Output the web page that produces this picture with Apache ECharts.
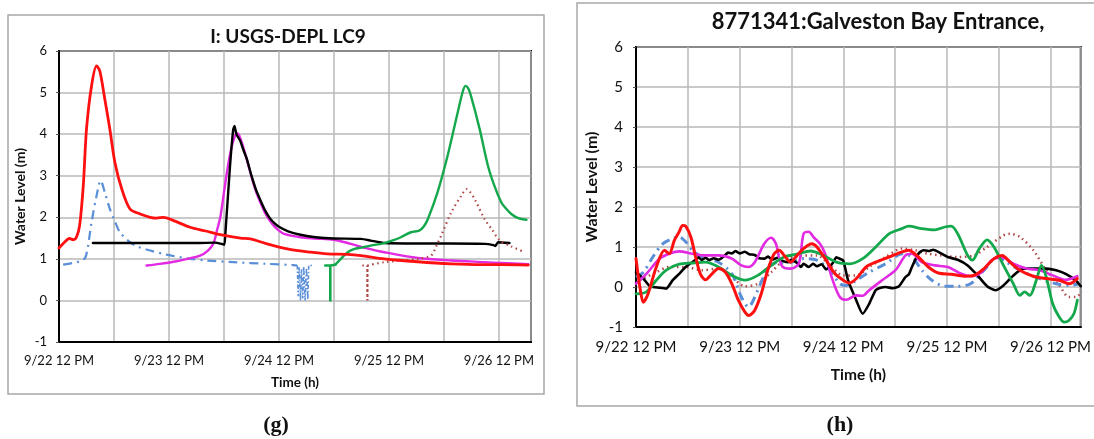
<!DOCTYPE html>
<html>
<head>
<meta charset="utf-8">
<script src="https://cdn.jsdelivr.net/npm/echarts@6/dist/echarts.min.js"></script>
<style>
  html, body { margin: 0; padding: 0; background: #fff; }
  #chart { width: 1094px; height: 439px; }
</style>
</head>
<body>
<div id="chart"></div>
<script>
// Time axis: hours after 9/22 12 PM; labels every 24 h, grid every 12 h
const tickLabels = ['9/22 12 PM', '9/23 12 PM', '9/24 12 PM', '9/25 12 PM', '9/26 12 PM'];
const yTicks = [-1, 0, 1, 2, 3, 4, 5, 6];

// ---- (g) I: USGS-DEPL LC9 : [hour, water level m] ----
const lc9Red = [[0,1.26],[1.2,1.4],[2.3,1.49],[3.1,1.46],[3.8,1.52],[4.5,1.8],[5.3,2.76],[6.0,4.12],[7.1,5.16],[8.2,5.64],[8.9,5.52],[10,4.84],[11.1,4.12],[12.2,3.32],[13.7,2.68],[15.5,2.2],[17.7,2.08],[19.9,2.0],[21.3,1.98],[22.8,2.0],[25,1.92],[28.6,1.76],[32,1.67],[35.2,1.58],[39.6,1.5],[41.8,1.48],[45.4,1.36],[49.8,1.24],[54.9,1.16],[58.6,1.12],[63,1.11],[65.9,1.08],[71,1.0],[78.3,0.93],[85.6,0.88],[92.1,0.86],[96.5,0.86],[102.4,0.85]];
const lc9Black = [[7.4,1.38],[20,1.38],[30,1.38],[34,1.39],[35.5,1.36],[36.1,1.34],[36.3,1.6],[37.3,3.2],[38.0,4.1],[38.3,4.2],[38.7,4.0],[39.5,3.85],[40.3,3.6],[41,3.4],[42,3.0],[43,2.66],[44,2.4],[45,2.16],[46,1.98],[47,1.86],[48,1.77],[50,1.66],[52.7,1.58],[56,1.52],[60,1.49],[65.9,1.48],[68,1.44],[71,1.38],[78.3,1.37],[85,1.37],[92.9,1.36],[94.8,1.33],[95.2,1.31],[95.8,1.40],[98.3,1.38]];
const lc9Magenta = [[19.1,0.84],[22,0.88],[25,0.93],[28,1.0],[30.8,1.08],[32.5,1.2],[33.7,1.37],[34.5,1.7],[35.2,2.0],[36.0,2.6],[36.7,3.12],[37.4,3.55],[38.1,3.86],[38.8,4.02],[39.4,3.95],[40.3,3.65],[41,3.38],[42,2.98],[43,2.62],[44,2.34],[45,2.1],[46,1.92],[47,1.78],[48,1.68],[49.1,1.6],[52.7,1.52],[56,1.49],[60,1.46],[63.7,1.36],[67,1.26],[71,1.16],[78.3,1.02],[85.6,0.96],[92.9,0.92],[96.5,0.9],[102.4,0.87]];
const lc9Blue = [[0.9,0.86],[3,0.9],[4.5,0.94],[5.8,1.04],[7.1,1.88],[8.2,2.52],[9.1,2.88],[10,2.6],[11.1,2.2],[12.2,1.9],[13.3,1.64],[15.5,1.4],[17.5,1.28],[19.9,1.2],[23.5,1.1],[28.6,1.0],[32.3,0.96],[38.1,0.92],[45.4,0.88],[51.2,0.85],[52,0.84]];
const lc9BlueGap = [[52,0.84],[52.2,0.1],[52.4,0.8],[52.7,0.0],[52.9,0.75],[53.2,0.05],[53.4,0.82],[53.7,0.0],[54,0.78],[54.3,0.02],[54.5,0.84],[55.3,0.84]];
const lc9GreenStart = [[58.1,0.84],[59.2,0.84],[59.2,0],[59.2,0.84],[60.3,0.86]];
const lc9Green = [[60.3,0.86],[61.5,1.0],[63,1.16],[64.5,1.24],[66,1.27],[68,1.32],[71,1.38],[73,1.45],[74.6,1.52],[76.8,1.64],[78.6,1.68],[79.6,1.78],[80.5,1.96],[82.6,2.6],[84.8,3.48],[87,4.52],[88.1,5.02],[88.7,5.16],[89.3,5.1],[89.9,4.92],[91.8,4.12],[93.6,3.24],[95,2.76],[96.5,2.36],[97.3,2.24],[98.7,2.08],[100.2,1.98],[102,1.94]];
const lc9BrownStart = [[66.2,0.84],[67.3,0.84],[67.3,0],[67.3,0.84]];
const lc9Brown = [[67.3,0.84],[71,0.92],[75,0.96],[78.3,1.0],[81.2,1.08],[82.3,1.3],[83.4,1.56],[85.6,2.12],[87.8,2.52],[88.9,2.68],[89.6,2.62],[90.7,2.44],[92.9,1.95],[94.4,1.72],[96.2,1.44],[98.7,1.3],[101.6,1.16]];

// ---- (h) 8771341: Galveston Bay Entrance : [hour, water level m] ----
const gbRed = [[0,0.71],[0.9,0],[1.7,-0.38],[2.8,-0.17],[4.7,0.5],[6.6,0.92],[7.7,0.83],[8.9,1.17],[10,1.38],[10.8,1.54],[11.5,1.52],[12.7,1.25],[13.8,0.75],[14.9,0.33],[16.1,0.18],[17.6,0.33],[19.1,0.46],[20.6,0.38],[22.2,0.08],[23.7,-0.33],[25.2,-0.62],[26.1,-0.71],[27.5,-0.58],[29,-0.17],[30.5,0.42],[32,0.83],[33.2,0.92],[34.3,0.79],[35.8,0.62],[37.3,0.79],[38.8,0.96],[40.7,1.08],[41.9,1.0],[43.8,0.71],[46.1,0.33],[48,0.17],[49.5,0.1],[51,0.21],[53.3,0.5],[55.5,0.62],[58.6,0.75],[61.6,0.88],[63.1,0.92],[65.4,0.75],[67.7,0.5],[70,0.35],[73,0.32],[76,0.27],[78.3,0.29],[80.6,0.46],[82.9,0.71],[84.8,0.79],[86.6,0.62],[88.9,0.42],[92,0.27],[95,0.21],[98,0.17],[100.3,0.08],[102.2,0.21]];
const gbMagenta = [[0,0.08],[2.4,0.33],[5.5,0.71],[7.7,0.83],[10,0.89],[13.1,0.83],[16.1,0.79],[19.1,0.79],[22.2,0.71],[24.4,0.54],[26,0.5],[27.5,0.62],[29.7,1.08],[31.3,1.23],[32.4,1.08],[33.2,0.71],[34,0.5],[35.8,0.46],[37.7,0.58],[38.8,1.33],[40,1.38],[41.1,1.25],[42.6,1.08],[43.8,0.83],[45.3,0.25],[47.2,-0.25],[48.7,-0.32],[51,-0.21],[52.5,-0.22],[54,-0.08],[57,0.17],[60.1,0.42],[62.4,0.79],[63.9,0.83],[66.2,0.62],[69.2,0.54],[72.2,0.5],[75.3,0.33],[77.5,0.27],[79.8,0.35],[82.9,0.71],[85.1,0.73],[87.4,0.58],[90.4,0.46],[93.5,0.42],[96.5,0.29],[99.5,0.18],[102.2,0.27]];
const gbGreen = [[0,-0.17],[2.4,-0.12],[4.7,0.17],[7,0.42],[10,0.57],[13.1,0.6],[16.1,0.62],[19.1,0.5],[22.2,0.29],[25.2,0.17],[28.2,0.29],[31.3,0.54],[34.3,0.75],[37.3,0.82],[40.4,0.9],[43.4,0.79],[46.4,0.62],[49.5,0.58],[52.5,0.71],[55.5,1.0],[58.6,1.33],[61.6,1.46],[63.1,1.52],[66.2,1.46],[69.2,1.43],[71.5,1.5],[73,1.52],[74.5,1.33],[76.8,0.79],[77.9,0.67],[79.5,0.96],[81.3,1.18],[82.9,1.0],[85.1,0.54],[87.4,0.08],[88.9,-0.21],[90,-0.12],[91.2,-0.21],[92.7,0.17],[93.9,0.54],[95,0.25],[96.5,-0.42],[98,-0.75],[99.2,-0.88],[100.3,-0.83],[101.4,-0.67],[102.2,-0.33]];
const gbBlack = [[0,0.37],[1.7,0.21],[3.2,0.02],[5.5,-0.02],[7,-0.04],[8.5,0.17],[10,0.33],[11.5,0.5],[13.8,0.68],[14.5,0.74],[15.2,0.68],[16.1,0.73],[17,0.67],[18,0.72],[19.1,0.68],[20.6,0.79],[21.3,0.86],[22.2,0.84],[23,0.9],[24,0.84],[25.2,0.88],[26.2,0.82],[27.5,0.8],[28.5,0.72],[29.7,0.71],[30.6,0.76],[31.5,0.68],[32.8,0.73],[33.8,0.66],[35.1,0.62],[36,0.68],[37.3,0.6],[38.2,0.5],[38.8,0.58],[40,0.5],[41,0.58],[41.9,0.52],[43,0.57],[44,0.44],[44.9,0.52],[45.7,0.62],[46.4,0.74],[47.3,0.7],[48,0.66],[49.1,0.17],[51,-0.33],[52.5,-0.67],[54,-0.42],[55.5,-0.08],[56.7,-0.02],[57.8,0],[59.5,-0.03],[60.9,0.02],[62.4,0.25],[63.2,0.32],[63.9,0.5],[65.4,0.83],[66.5,0.92],[67.7,0.9],[68.8,0.93],[70,0.88],[72.2,0.75],[74.5,0.68],[76.8,0.54],[79.1,0.29],[81.3,0.02],[83.2,-0.08],[85.1,0.04],[87.4,0.29],[89.7,0.46],[92,0.46],[95,0.46],[97.3,0.42],[99.5,0.33],[101.8,0.17],[103,0.02]];
const gbBlue = [[0,0.25],[1.7,0.37],[3.9,0.75],[6.2,1.08],[8.5,1.21],[10,1.25],[11.5,1.13],[13.4,0.88],[16.1,0.71],[19.1,0.62],[22.2,0.33],[24.4,-0.25],[26,-0.5],[28.2,-0.08],[30.5,0.46],[32.8,0.62],[35.8,0.62],[38.8,0.71],[41.9,0.67],[44.9,0.42],[47.2,0.08],[48.7,0.04],[51,0.17],[54,0.37],[57.8,0.58],[61.6,0.83],[63.9,0.75],[66.2,0.42],[68.5,0.17],[71.5,0.02],[74.5,0.02],[77.5,0.08],[80.6,0.42],[83.6,0.75],[85.8,0.62],[88.9,0.42],[93.5,0.21],[97.3,0.08],[100.3,0.04],[102.6,0.08]];
const gbBrown = [[0.9,0.17],[4.7,0.37],[7.7,0.5],[11.5,0.5],[15.3,0.42],[19.1,0.46],[22.2,0.25],[25.2,0.02],[28.2,0.08],[31.3,0.37],[34.3,0.67],[38.1,0.79],[41.9,0.79],[44.9,0.54],[48,0.29],[51,0.29],[54,0.5],[57.8,0.75],[61.6,0.96],[64.6,0.92],[67.7,0.83],[70.7,0.79],[74.5,0.75],[78.3,0.79],[81.3,1.0],[85.1,1.29],[86.6,1.33],[88.9,1.25],[92,0.92],[95,0.42],[98,0.04],[100.3,-0.25],[101.8,-0.25],[103.3,-0.12]];

const C = {
  red: '#ff1010',
  black: '#000000',
  magenta: '#e22ae2',
  green: '#14a84c',
  blue: '#5a8fd8',
  brown: '#b04848'
};
const FONT = 'Lato';

function timeLabel(v) {
  const i = v / 24;
  return Number.isInteger(i) && i < tickLabels.length ? tickLabels[i] : '';
}

function xAxisFor(idx, fs, nameFs, margin, nameGap) {
  return {
    gridIndex: idx, type: 'value', min: 0, max: 103, interval: 12,
    axisLine: { show: true, onZero: false, lineStyle: { color: '#000', width: 2 } },
    axisTick: { show: false },
    splitLine: { show: true, lineStyle: { color: '#b8b8b8', width: 1.5 } },
    axisLabel: { formatter: timeLabel, showMaxLabel: false, color: '#111', fontFamily: FONT, fontSize: fs, margin: margin },
    name: 'Time (h)', nameLocation: 'middle', nameGap: nameGap,
    nameTextStyle: { fontFamily: FONT, fontWeight: 'bold', fontSize: nameFs, color: '#111' }
  };
}
function yAxisFor(idx, fs, nameFs, margin, nameGap) {
  return {
    gridIndex: idx, type: 'value', min: yTicks[0], max: yTicks[yTicks.length - 1], interval: 1,
    axisLine: { show: true, lineStyle: { color: '#000', width: 2 } },
    axisTick: { show: true, length: 3, lineStyle: { color: '#555', width: 1 } },
    splitLine: { show: true, lineStyle: { color: '#b8b8b8', width: 1.5 } },
    axisLabel: { color: '#111', fontFamily: FONT, fontSize: fs, margin: margin },
    name: 'Water Level (m)', nameLocation: 'middle', nameGap: nameGap,
    nameTextStyle: { fontFamily: FONT, fontWeight: 'bold', fontSize: nameFs, color: '#111' }
  };
}

function line(idx, data, color, width, opts) {
  return Object.assign({
    type: 'line', xAxisIndex: idx, yAxisIndex: idx, data: data,
    showSymbol: false, smooth: 0.3, animation: false,
    lineStyle: { color: color, width: width, cap: 'round', join: 'round' }
  }, opts || {});
}
const dashDot = [9, 5, 2, 5];
const dotted = [1.5, 3.5];

const chart = echarts.init(document.getElementById('chart'), null, { renderer: 'canvas' });
chart.setOption({
  backgroundColor: '#ffffff',
  animation: false,
  title: [
    { text: 'I: USGS-DEPL LC9', left: 288, top: 27, textAlign: 'center', padding: 0,
      textStyle: { fontFamily: FONT, fontWeight: 'bold', fontSize: 19, color: '#111' } },
    { text: '8771341:Galveston Bay Entrance,', left: 878, top: 11, textAlign: 'center', padding: 0,
      textStyle: { fontFamily: FONT, fontWeight: 'bold', fontSize: 22, color: '#111' } }
  ],
  grid: [
    { left: 59, top: 51, width: 472, height: 291, show: true, borderColor: '#000', borderWidth: 2, backgroundColor: '#fff' },
    { left: 636, top: 47, width: 452, height: 280, show: true, borderColor: '#000', borderWidth: 2, backgroundColor: '#fff' }
  ],
  xAxis: [xAxisFor(0, 13, 13.5, 12, 34), xAxisFor(1, 15, 15.5, 13, 40)],
  yAxis: [yAxisFor(0, 13, 14, 12, 32), yAxisFor(1, 15, 16, 13, 36)],
  graphic: [
    { type: 'rect', z: -10, shape: { x: 8, y: 15, width: 536, height: 379 },
      style: { fill: 'none', stroke: '#a8a8a8', lineWidth: 1.5 } },
    { type: 'rect', z: -10, shape: { x: 577, y: 3, width: 540, height: 403 },
      style: { fill: 'none', stroke: '#a8a8a8', lineWidth: 1.5 } },
    { type: 'text', x: 276, y: 425, style: { text: '(g)', font: 'bold 22px "Liberation Serif"', fill: '#111', textAlign: 'center', textVerticalAlign: 'middle' } },
    { type: 'text', x: 840, y: 425, style: { text: '(h)', font: 'bold 22px "Liberation Serif"', fill: '#111', textAlign: 'center', textVerticalAlign: 'middle' } }
  ],
  series: [
    // (g)
    line(0, lc9Blue, C.blue, 2.2, { lineStyle: { color: C.blue, width: 2.2, type: dashDot } }),
    line(0, lc9BlueGap, C.blue, 2, { smooth: false, lineStyle: { color: C.blue, width: 1.6, type: [4, 2, 1.5, 2] } }),
    line(0, lc9Magenta, C.magenta, 2.4),
    line(0, lc9Black, C.black, 2.4, { smooth: 0.15 }),
    line(0, lc9GreenStart, C.green, 2.6, { smooth: false }),
    line(0, lc9Green, C.green, 2.4),
    line(0, lc9BrownStart, C.brown, 2.2, { smooth: false, lineStyle: { color: C.brown, width: 2.2, type: dotted } }),
    line(0, lc9Brown, C.brown, 2.2, { lineStyle: { color: C.brown, width: 2.2, type: dotted } }),
    line(0, lc9Red, C.red, 2.8),
    // (h)
    line(1, gbBrown, C.brown, 2.5, { lineStyle: { color: C.brown, width: 2.5, type: dotted } }),
    line(1, gbBlue, C.blue, 3, { lineStyle: { color: C.blue, width: 3, type: dashDot } }),
    line(1, gbBlack, C.black, 2.6, { smooth: 0.2 }),
    line(1, gbMagenta, C.magenta, 2.6),
    line(1, gbGreen, C.green, 2.8),
    line(1, gbRed, C.red, 3)
  ]
});
</script>
</body>
</html>
